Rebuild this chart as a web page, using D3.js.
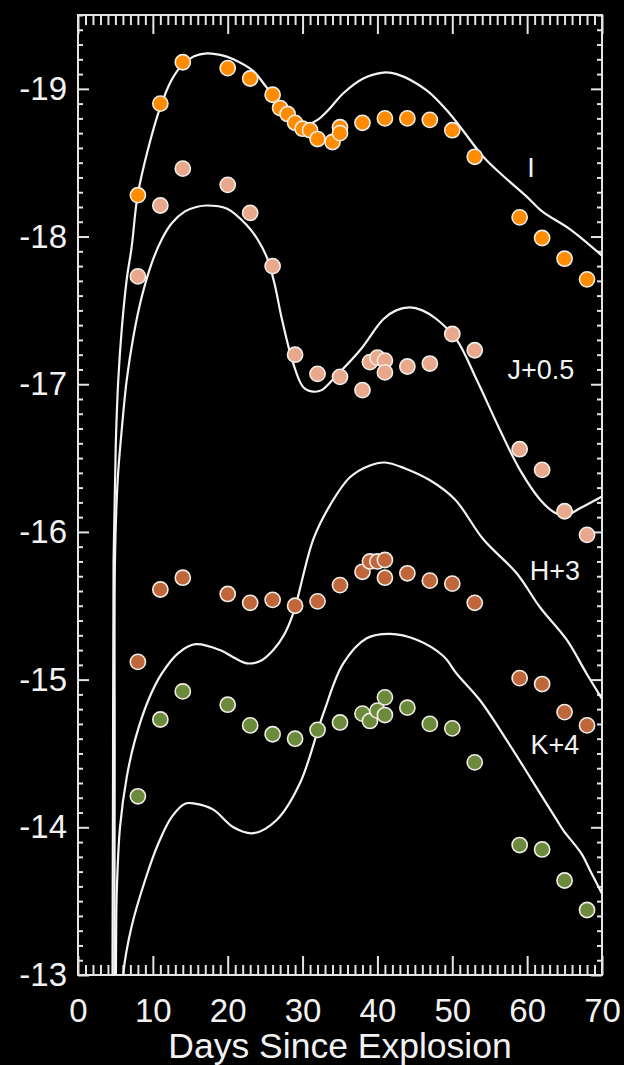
<!DOCTYPE html>
<html>
<head>
<meta charset="utf-8">
<script src="https://cdn.jsdelivr.net/npm/d3@7"></script>
<style>
  html, body { margin: 0; padding: 0; background: #000; }
  svg { display: block; }
  text { font-family: "Liberation Sans", Arial, Helvetica, sans-serif; fill: #f2f2f2; }
</style>
</head>
<body>
<svg id="chart" width="624" height="1065"></svg>
<script>
// Observed photometry (absolute magnitude vs. days since explosion)
const iDays = [8, 11, 14, 20, 23, 26, 27, 28, 29, 30, 31, 32, 34, 35, 35, 38, 41, 44, 47, 50, 53, 59, 62, 65, 68];
const iMag  = [-18.28, -18.90, -19.18, -19.14, -19.07, -18.96, -18.87, -18.83, -18.77, -18.73, -18.72, -18.66, -18.64, -18.74, -18.70, -18.77, -18.80, -18.80, -18.79, -18.72, -18.54, -18.13, -17.99, -17.85, -17.71];

const jDays = [8, 11, 14, 20, 23, 26, 29, 32, 35, 38, 39, 40, 41, 41, 44, 47, 50, 53, 59, 62, 65, 68];
const jMag  = [-17.73, -18.21, -18.46, -18.35, -18.16, -17.80, -17.20, -17.07, -17.05, -16.96, -17.15, -17.18, -17.16, -17.08, -17.12, -17.14, -17.34, -17.23, -16.56, -16.42, -16.14, -15.98];

const hDays = [8, 11, 14, 20, 23, 26, 29, 32, 35, 38, 39, 40, 41, 41, 44, 47, 50, 53, 59, 62, 65, 68];
const hMag  = [-15.12, -15.61, -15.69, -15.58, -15.52, -15.54, -15.50, -15.53, -15.64, -15.73, -15.80, -15.80, -15.81, -15.69, -15.72, -15.67, -15.65, -15.52, -15.01, -14.97, -14.78, -14.69];

const kDays = [8, 11, 14, 20, 23, 26, 29, 32, 35, 38, 39, 40, 41, 41, 44, 47, 50, 53, 59, 62, 65, 68];
const kMag  = [-14.21, -14.73, -14.92, -14.83, -14.69, -14.63, -14.60, -14.66, -14.71, -14.77, -14.72, -14.79, -14.76, -14.88, -14.81, -14.70, -14.67, -14.44, -13.88, -13.85, -13.64, -13.44];

// Model light curves, [day, magnitude]
const iModel = [[4.6,-12.85],[4.68,-14.4],[4.75,-15.8],[5.04,-16.58],[5.38,-17.03],[5.84,-17.37],[6.51,-17.71],[7.17,-17.93],[7.97,-18.28],[9.5,-18.62],[10.95,-18.87],[12.5,-19.06],[13.9,-19.16],[15.5,-19.22],[17.2,-19.24],[19,-19.23],[20.75,-19.2],[23.42,-19.12],[25.2,-19.01],[27.88,-18.86],[29.5,-18.79],[30.55,-18.76],[32.0,-18.79],[33.5,-18.86],[35.44,-18.97],[38.11,-19.07],[40.78,-19.11],[42.57,-19.1],[46.58,-18.99],[49.69,-18.83],[54.14,-18.54],[56.37,-18.43],[59.94,-18.27],[62,-18.17],[65.7,-18.05],[70,-17.87]];
const jModel = [[4.85,-12.85],[4.9,-14.4],[4.94,-15.81],[5.3,-16.35],[5.84,-16.69],[6.51,-17.03],[7.39,-17.32],[8.51,-17.59],[9.85,-17.82],[11.18,-17.98],[12.52,-18.09],[14.29,-18.17],[15.8,-18.2],[17.2,-18.21],[19.86,-18.19],[22.5,-18.08],[24,-17.98],[25.3,-17.85],[26.3,-17.67],[27.2,-17.45],[28.76,-17.14],[30.1,-16.98],[31.43,-16.95],[32.55,-16.96],[34.56,-17.06],[37.67,-17.23],[40.78,-17.44],[42.5,-17.5],[44.35,-17.52],[46,-17.5],[47.92,-17.44],[50.59,-17.30],[53.26,-17.03],[56.37,-16.69],[59.04,-16.42],[61.71,-16.22],[63.7,-16.13],[65.05,-16.11],[67.06,-16.16],[70,-16.24]];
const hModel = [[5.05,-12.85],[5.1,-13.3],[5.17,-13.55],[5.61,-14.0],[6.51,-14.34],[7.61,-14.59],[9.39,-14.86],[11.18,-15.04],[13.4,-15.18],[15.7,-15.24],[18.97,-15.20],[20.8,-15.15],[22.54,-15.11],[24.5,-15.13],[26.09,-15.20],[27.5,-15.3],[28.76,-15.45],[31.43,-15.95],[33.66,-16.18],[36.33,-16.37],[39.0,-16.45],[41.0,-16.47],[43.68,-16.43],[47.02,-16.35],[50.36,-16.22],[54.14,-15.95],[58.6,-15.72],[61.71,-15.49],[65.28,-15.27],[67.95,-15.04],[70,-14.87]];
const kModel = [[5.95,-12.85],[6.05,-13.01],[7.17,-13.33],[8.95,-13.64],[10.73,-13.89],[12.52,-14.07],[14.29,-14.16],[15.63,-14.16],[18.07,-14.12],[20.75,-14.0],[23.42,-13.96],[26.54,-14.05],[29.66,-14.3],[32.77,-14.77],[35.44,-15.11],[38.57,-15.28],[41.68,-15.31],[45.24,-15.27],[48.8,-15.16],[50.59,-15.04],[53.7,-14.86],[57.27,-14.59],[60.5,-14.33],[63.95,-14.05],[64.83,-13.98],[67.28,-13.82],[68.39,-13.71],[70,-13.55]];

const bandLabels = ["I", "J+0.5", "H+3", "K+4"];
const xMajorTicks = [0, 10, 20, 30, 40, 50, 60, 70];
const yMajorTicks = [-19, -18, -17, -16, -15, -14, -13];
const xTitle = "Days Since Explosion";

// ---- layout ----
const plotLeft = 78, plotRight = 602, plotTop = 15, plotBottom = 975;
const svg = d3.select("#chart");
svg.append("rect").attr("width", 624).attr("height", 1065).attr("fill", "#000");

const x = d3.scaleLinear().domain([0, 70]).range([plotLeft, plotRight]);
const y = d3.scaleLinear().domain([-19.5, -13]).range([plotTop, plotBottom]);

const axisColor = "#e4e4e4";
const xMinor = d3.range(0, 71, 1).filter(d => d % 10 !== 0);
const yMinor = d3.range(-195, -129, 1).map(d => d / 10).filter(d => Math.abs(d - Math.round(d)) > 1e-6);

function styleAxis(g) {
  g.select(".domain").remove();
  g.selectAll(".tick line").attr("stroke", axisColor).attr("stroke-width", 2);
}

// inward ticks on all four sides
const ticks = svg.append("g");
ticks.append("g").attr("transform", `translate(${plotLeft},0)`)
  .call(d3.axisRight(y).tickValues(yMajorTicks).tickSize(11).tickFormat("")).call(styleAxis);
ticks.append("g").attr("transform", `translate(${plotLeft},0)`)
  .call(d3.axisRight(y).tickValues(yMinor).tickSize(5).tickFormat("")).call(styleAxis);
ticks.append("g").attr("transform", `translate(${plotRight},0)`)
  .call(d3.axisLeft(y).tickValues(yMajorTicks).tickSize(11).tickFormat("")).call(styleAxis);
ticks.append("g").attr("transform", `translate(${plotRight},0)`)
  .call(d3.axisLeft(y).tickValues(yMinor).tickSize(5).tickFormat("")).call(styleAxis);
ticks.append("g").attr("transform", `translate(0,${plotBottom})`)
  .call(d3.axisTop(x).tickValues(xMajorTicks).tickSize(19).tickFormat("")).call(styleAxis);
ticks.append("g").attr("transform", `translate(0,${plotBottom})`)
  .call(d3.axisTop(x).tickValues(xMinor).tickSize(10).tickFormat("")).call(styleAxis);
ticks.append("g").attr("transform", `translate(0,${plotTop})`)
  .call(d3.axisBottom(x).tickValues(xMajorTicks).tickSize(19).tickFormat("")).call(styleAxis);
ticks.append("g").attr("transform", `translate(0,${plotTop})`)
  .call(d3.axisBottom(x).tickValues(xMinor).tickSize(10).tickFormat("")).call(styleAxis);

// tick labels
const yLab = svg.append("g").attr("transform", `translate(${plotLeft},0)`)
  .call(d3.axisLeft(y).tickValues(yMajorTicks).tickSize(0).tickPadding(11).tickFormat(d => String(d)));
yLab.select(".domain").remove();
yLab.selectAll("text").attr("font-size", 33).attr("fill", "#f2f2f2")
  .style("font-family", "'Liberation Sans', Arial, sans-serif");

const xLab = svg.append("g").attr("transform", `translate(0,${plotBottom})`)
  .call(d3.axisBottom(x).tickValues(xMajorTicks).tickSize(0).tickPadding(24).tickFormat(d => String(d)));
xLab.select(".domain").remove();
xLab.selectAll("text").attr("font-size", 33).attr("fill", "#f2f2f2")
  .style("font-family", "'Liberation Sans', Arial, sans-serif");

svg.append("text").attr("x", 340).attr("y", 1058)
  .attr("text-anchor", "middle").attr("font-size", 35.5).text(xTitle);

// plot frame
svg.append("rect").attr("x", plotLeft).attr("y", plotTop)
  .attr("width", plotRight - plotLeft).attr("height", plotBottom - plotTop)
  .attr("fill", "none").attr("stroke", axisColor).attr("stroke-width", 2);

// clip region for model curves
svg.append("clipPath").attr("id", "plotClip").append("rect")
  .attr("x", plotLeft).attr("y", plotTop).attr("width", plotRight - plotLeft).attr("height", plotBottom - plotTop);

const line = d3.line().x(d => x(d[0])).y(d => y(d[1])).curve(d3.curveCatmullRom.alpha(0.5));
const models = [iModel, jModel, hModel, kModel];
svg.append("g").attr("clip-path", "url(#plotClip)")
  .selectAll("path").data(models).join("path")
  .attr("d", line).attr("fill", "none").attr("stroke", "#f4f4f4").attr("stroke-width", 2.2);

// observed points
const bands = [
  { days: iDays, mags: iMag, color: "#ff8c00" },
  { days: jDays, mags: jMag, color: "#e9a88b" },
  { days: hDays, mags: hMag, color: "#c0663b" },
  { days: kDays, mags: kMag, color: "#6b8a3c" }
];
bands.forEach(b => {
  svg.append("g").selectAll("circle").data(b.days.map((d, i) => [d, b.mags[i]])).join("circle")
    .attr("cx", d => x(d[0])).attr("cy", d => y(d[1])).attr("r", 7.6)
    .attr("fill", b.color).attr("stroke", "#f0ece6").attr("stroke-width", 1.6);
});

// band annotations
const labelAnchors = [[60.5, -18.47], [61.85, -17.10], [63.7, -15.74], [63.7, -14.56]];
svg.append("g").selectAll("text").data(bandLabels).join("text")
  .attr("x", (d, i) => x(labelAnchors[i][0]))
  .attr("y", (d, i) => y(labelAnchors[i][1]))
  .attr("dy", "0.36em").attr("text-anchor", "middle").attr("font-size", 27)
  .text(d => d);
</script>
</body>
</html>
